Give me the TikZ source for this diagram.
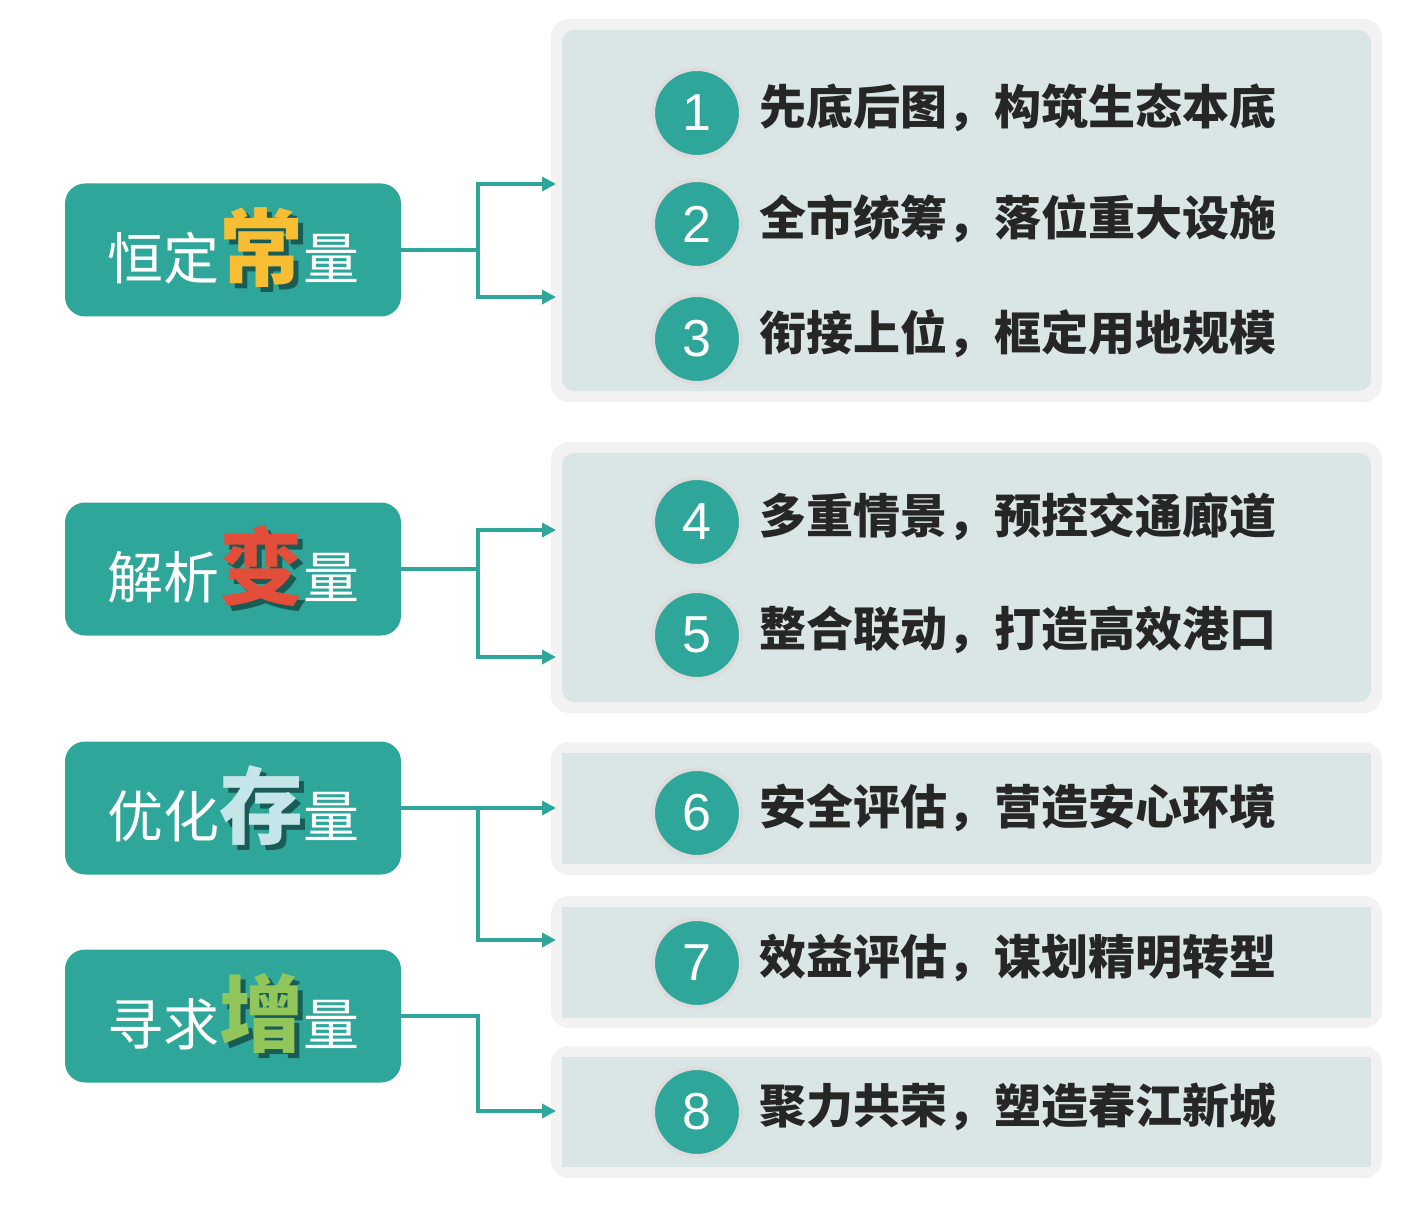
\documentclass[tikz,border=0pt]{standalone}
\usepackage{fontspec}
\setmainfont{Liberation Sans}
\newfontfamily\cjk{Noto Sans CJK SC}
\usetikzlibrary{arrows.meta,positioning}
\definecolor{tealc}{HTML}{2EA69A}
\definecolor{panelc}{HTML}{DAE6E6}
\definecolor{borderc}{HTML}{F2F2F2}
\definecolor{ringc}{HTML}{DCDCDC}
\definecolor{inkc}{HTML}{262626}
\definecolor{yellowc}{HTML}{F7BE34}
\definecolor{redc}{HTML}{E24E3A}
\definecolor{cyanc}{HTML}{C4E6E9}
\definecolor{greenc}{HTML}{92C55A}
\newcommand\keychar[2]{{\fontsize{84}{84}\selectfont\bfseries\rlap{\kern5pt\raisebox{-5pt}{\color{tealc!55!black}#2}}\color{#1}#2}}
\newcommand\fwcomma{\hbox to 1em{\hss，\hss}}
\tikzset{
  keybox/.style={rounded corners=20pt,fill=tealc,text=white,minimum width=336pt,minimum height=133pt,inner sep=0pt,font=\cjk\fontsize{56}{56}\selectfont},
  numdot/.style={circle,fill=tealc,draw=ringc,line width=4pt,minimum size=88pt,inner sep=0pt,text=white,font=\fontsize{52}{52}\selectfont},
  itemtext/.style={inner sep=0pt,text=inkc,yshift=5pt,font=\cjk\bfseries\fontsize{47}{47}\selectfont},
  conn/.style={draw=tealc,line width=4pt,-{Triangle[length=14pt,width=14pt]}}
}
\begin{document}
\begin{tikzpicture}[x=1pt,y=-1pt]
\useasboundingbox (0,0) rectangle (1413,1230);
\fill[borderc,rounded corners=18pt] (551,19) rectangle (1382,402);
\fill[panelc,rounded corners=12pt] (562,30) rectangle (1371,391);
\fill[borderc,rounded corners=18pt] (551,442) rectangle (1382,713);
\fill[panelc,rounded corners=12pt] (562,453) rectangle (1371,702);
\fill[borderc,rounded corners=18pt] (551,742) rectangle (1382,875);
\fill[panelc] (562,753) rectangle (1371,864);
\fill[borderc,rounded corners=18pt] (551,896) rectangle (1382,1028);
\fill[panelc] (562,907) rectangle (1371,1018);
\fill[borderc,rounded corners=18pt] (551,1046) rectangle (1382,1178);
\fill[panelc] (562,1057) rectangle (1371,1167);

\node[keybox] (k1) at (233,250) {恒定\keychar{yellowc}{常}量};
\node[keybox] (k2) at (233,569) {解析\keychar{redc}{变}量};
\node[keybox] (k3) at (233,808) {优化\keychar{cyanc}{存}量};
\node[keybox] (k4) at (233,1016) {寻求\keychar{greenc}{增}量};

\node[numdot] (n1) at (697,113) {1};
\node[numdot] (n2) at (697,224) {2};
\node[numdot] (n3) at (697,339) {3};
\node[numdot] (n4) at (697,522) {4};
\node[numdot] (n5) at (697,635) {5};
\node[numdot] (n6) at (697,813) {6};
\node[numdot] (n7) at (697,963) {7};
\node[numdot] (n8) at (697,1112) {8};
\node[itemtext,right=16pt of n1] (i1) {先底后图\fwcomma 构筑生态本底};
\node[itemtext,right=16pt of n2] (i2) {全市统筹\fwcomma 落位重大设施};
\node[itemtext,right=16pt of n3] (i3) {衔接上位\fwcomma 框定用地规模};
\node[itemtext,right=16pt of n4] (i4) {多重情景\fwcomma 预控交通廊道};
\node[itemtext,right=16pt of n5] (i5) {整合联动\fwcomma 打造高效港口};
\node[itemtext,right=16pt of n6] (i6) {安全评估\fwcomma 营造安心环境};
\node[itemtext,right=16pt of n7] (i7) {效益评估\fwcomma 谋划精明转型};
\node[itemtext,right=16pt of n8] (i8) {聚力共荣\fwcomma 塑造春江新城};

\coordinate (j1) at (478,250);
\coordinate (j2) at (478,569);
\coordinate (j3) at (478,808);
\coordinate (j4) at (478,1016);
\coordinate (t1) at (556,184);
\coordinate (t2) at (556,297);
\coordinate (t4) at (556,530);
\coordinate (t5) at (556,657);
\coordinate (t6) at (556,808);
\coordinate (t7) at (556,940);
\coordinate (t8) at (556,1111);
\draw[conn] (k1.east) -- (j1) |- (t1);
\draw[conn] (j1) |- (t2);
\draw[conn] (k2.east) -- (j2) |- (t4);
\draw[conn] (j2) |- (t5);
\draw[conn] (k3.east) -- (t6);
\draw[conn] (j3) |- (t7);
\draw[conn] (k4.east) -- (j4) |- (t8);
\end{tikzpicture}
\end{document}
